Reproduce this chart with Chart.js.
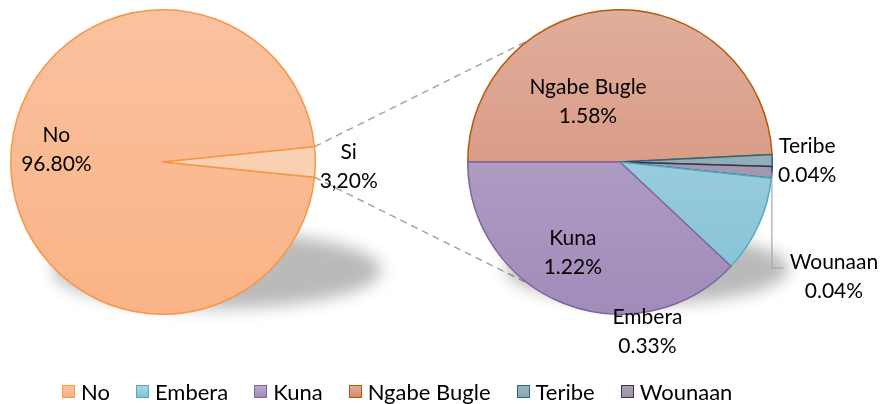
<!DOCTYPE html>
<html lang="es">
<head>
  <meta charset="UTF-8" />
  <title>Pie of pie</title>
  <script src="https://cdn.jsdelivr.net/npm/chart.js"></script>
  <style>
    * {
      margin: 0;
      padding: 0;
      box-sizing: border-box;
    }

    body {
      width: 885px;
      height: 404px;
      background: #fff;
      font-family: Lato, sans-serif;
      overflow: hidden;
      position: relative;
    }

    #links {
      position: absolute;
      left: 0;
      top: 0;
    }

    .pie {
      position: absolute;
      top: 0;
    }

    #leftBox {
      left: 0;
      width: 440px;
      height: 330px;
    }

    #rightBox {
      left: 440px;
      width: 445px;
      height: 370px;
    }

    .legend {
      position: absolute;
      left: 62px;
      top: 378px;
      display: flex;
      align-items: center;
      font-size: 22px;
      color: #000;
      white-space: nowrap;
    }

    .legend .item {
      display: flex;
      align-items: center;
      margin-right: 26px;
    }

    .legend i {
      display: inline-block;
      width: 13px;
      height: 13px;
      border: 1.5px solid;
      margin-right: 6px;
    }
  </style>
</head>
<body>
  <canvas id="links" width="885" height="404"></canvas>
  <div class="pie" id="leftBox"><canvas id="leftPie"></canvas></div>
  <div class="pie" id="rightBox"><canvas id="rightPie"></canvas></div>
  <div class="legend" id="legend"></div>

  <script>
    // data
    const leftLabels = ['No', 'Si'];
    const leftValues = [96.80, 3.20];
    const leftTexts = ['96.80%', '3,20%'];

    const rightLabels = ['Ngabe Bugle', 'Teribe', 'Wounaan', 'Embera', 'Kuna'];
    const rightValues = [1.58, 0.04, 0.04, 0.33, 1.22];
    const rightTexts = ['1.58%', '0.04%', '0.04%', '0.33%', '1.22%'];

    const legendLabels = ['No', 'Embera', 'Kuna', 'Ngabe Bugle', 'Teribe', 'Wounaan'];

    // fill gradient (top, bottom) and outline per slice
    const sliceStyle = {
      'No':          { top: '#F9C29F', bottom: '#FBB386', line: '#F79646' },
      'Si':          { top: '#FBD8C1', bottom: '#FAC8A6', line: '#F79646' },
      'Ngabe Bugle': { top: '#E0AE9C', bottom: '#D38A72', line: '#B65708' },
      'Kuna':        { top: '#BAABCC', bottom: '#A18BBA', line: '#8064A2' },
      'Embera':      { top: '#ADD6E2', bottom: '#82C1D5', line: '#4BACC6' },
      'Teribe':      { top: '#9AB3BA', bottom: '#8AA8B1', line: '#276A7C' },
      'Wounaan':     { top: '#A9A1B6', bottom: '#9B92AA', line: '#3F3151' }
    };

    // label centre, as a fraction of the radius from the pie centre
    const labelSpot = {
      'No':          [-0.70, -0.085],
      'Si':          [1.22, 0.025],
      'Ngabe Bugle': [-0.21, -0.40],
      'Teribe':      [1.23, -0.01],
      'Wounaan':     [1.405, 0.75],
      'Embera':      [0.18, 1.11],
      'Kuna':        [-0.31, 0.59]
    };

    const FONT = '21px Lato, sans-serif';

    function gradientFill(ctx) {
      const chart = ctx.chart;
      const name = chart.data.labels[ctx.dataIndex];
      const st = sliceStyle[name];
      const area = chart.chartArea;
      if (!area) return st.bottom;
      const g = chart.ctx.createLinearGradient(0, area.top, 0, area.bottom);
      g.addColorStop(0, st.top);
      g.addColorStop(1, st.bottom);
      return g;
    }

    // soft shadow below the pie
    const pieShadow = {
      id: 'pieShadow',
      beforeDatasetsDraw(chart, args, opts) {
        const arc = chart.getDatasetMeta(0).data[0];
        if (!arc) return;
        const r = arc.outerRadius;
        const ctx = chart.ctx;
        ctx.save();
        ctx.filter = 'blur(8px)';
        ctx.fillStyle = 'rgba(0,0,0,0.27)';
        ctx.beginPath();
        ctx.ellipse(arc.x + opts.dx * r, arc.y + opts.dy * r, opts.rx * r, opts.ry * r, 0, 0, Math.PI * 2);
        ctx.fill();
        ctx.restore();
      }
    };

    // two-line labels (name / percent)
    const sliceLabels = {
      id: 'sliceLabels',
      afterDatasetsDraw(chart, args, opts) {
        const ctx = chart.ctx;
        const arcs = chart.getDatasetMeta(0).data;
        ctx.save();
        ctx.font = FONT;
        ctx.fillStyle = '#000';
        ctx.textAlign = 'center';
        ctx.textBaseline = 'middle';
        arcs.forEach((arc, i) => {
          const name = chart.data.labels[i];
          const spot = labelSpot[name];
          const r = arc.outerRadius;
          const cx = arc.x + spot[0] * r;
          const cy = arc.y + spot[1] * r;
          ctx.fillText(name, cx, cy - 14);
          ctx.fillText(opts.texts[i], cx, cy + 15);

          if (opts.leaders.includes(name)) {
            const mid = (arc.startAngle + arc.endAngle) / 2;
            const px = arc.x + Math.cos(mid) * r;
            const py = arc.y + Math.sin(mid) * r;
            const w = ctx.measureText(name).width;
            ctx.strokeStyle = '#A6A6A6';
            ctx.lineWidth = 1.2;
            ctx.beginPath();
            ctx.moveTo(px, py);
            ctx.lineTo(px, cy - 8);
            ctx.lineTo(cx - w / 2 - 6, cy - 8);
            ctx.stroke();
          }
        });
        ctx.restore();
      }
    };

    function makePie(id, labels, values, rotation, padding, texts, leaders, shadow) {
      return new Chart(document.getElementById(id), {
        type: 'pie',
        data: {
          labels: labels,
          datasets: [{
            data: values,
            backgroundColor: gradientFill,
            borderColor: labels.map(l => sliceStyle[l].line),
            borderWidth: 1.5,
            borderJoinStyle: 'round'
          }]
        },
        options: {
          responsive: true,
          maintainAspectRatio: false,
          animation: false,
          rotation: rotation,
          layout: { padding: padding },
          events: [],
          plugins: {
            legend: { display: false },
            tooltip: { enabled: false },
            pieShadow: shadow,
            sliceLabels: { texts: texts, leaders: leaders }
          }
        },
        plugins: [pieShadow, sliceLabels]
      });
    }

    // left pie: "Si" slice centred on 3 o'clock
    const siShare = leftValues[1] / leftValues.reduce((a, b) => a + b, 0);
    const leftChart = makePie('leftPie', leftLabels, leftValues, 90 + siShare * 180,
      { left: 10, right: 124, top: 9, bottom: 15 }, leftTexts, [],
      { dx: 0.355, dy: 0.71, rx: 1.08, ry: 0.25 });

    // right pie: breakdown of "Si", starting at 9 o'clock
    const rightChart = makePie('rightPie', rightLabels, rightValues, 270,
      { left: 27, right: 112, top: 9, bottom: 55 }, rightTexts, ['Wounaan'],
      { dx: 0.18, dy: 0.70, rx: 0.93, ry: 0.23 });

    // dashed connectors between the two pies
    function drawLinks() {
      const ctx = document.getElementById('links').getContext('2d');
      const si = leftChart.getDatasetMeta(0).data[1];
      const big = rightChart.getDatasetMeta(0).data[0];
      const lBox = document.getElementById('leftBox');
      const rBox = document.getElementById('rightBox');
      const lx = si.x + lBox.offsetLeft, ly = si.y + lBox.offsetTop;
      const rx = big.x + rBox.offsetLeft, ry = big.y + rBox.offsetTop;
      const reach = 127 * Math.PI / 180;
      const ends = [
        [si.startAngle, Math.PI * 2 - reach],
        [si.endAngle, reach]
      ];
      ctx.save();
      ctx.strokeStyle = '#A6A6A6';
      ctx.lineWidth = 1.5;
      ctx.setLineDash([7, 5]);
      ends.forEach(([a, b]) => {
        ctx.beginPath();
        ctx.moveTo(lx + Math.cos(a) * si.outerRadius, ly + Math.sin(a) * si.outerRadius);
        ctx.lineTo(rx + Math.cos(b) * big.outerRadius, ry + Math.sin(b) * big.outerRadius);
        ctx.stroke();
      });
      ctx.restore();
    }
    drawLinks();

    // legend
    const legend = document.getElementById('legend');
    legendLabels.forEach(name => {
      const st = sliceStyle[name];
      const item = document.createElement('span');
      item.className = 'item';
      const sw = document.createElement('i');
      sw.style.borderColor = st.line;
      sw.style.background = 'linear-gradient(' + st.top + ',' + st.bottom + ')';
      item.appendChild(sw);
      item.appendChild(document.createTextNode(name));
      legend.appendChild(item);
    });
  </script>
</body>
</html>
